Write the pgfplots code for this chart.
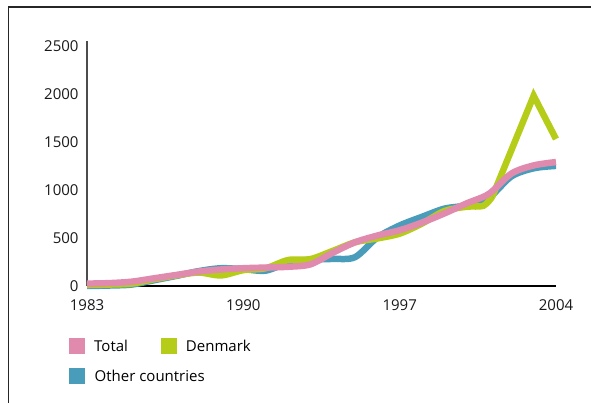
\documentclass[border=0pt]{standalone}
\usepackage{pgfplots}
\pgfplotsset{compat=1.18}
\usepackage{fontspec}
\setmainfont{Open Sans}
\definecolor{cTotal}{HTML}{E08BAE}
\definecolor{cDen}{HTML}{B5CC18}
\definecolor{cOther}{HTML}{4A9DBA}
\begin{document}
\begin{tikzpicture}
\useasboundingbox (0bp,0bp) rectangle (591bp,403bp);
\draw[line width=1.6bp, black!85] (8.5bp,0bp) -- (8.5bp,396bp) -- (591bp,396bp);
\begin{axis}[
  at={(87bp,117bp)}, anchor=south west,
  scale only axis, width=469bp, height=245bp,
  xmin=1983, xmax=2004, ymin=0, ymax=2550,
  clip=false,
  axis x line=bottom, axis y line=left,
  x axis line style={-, line width=1.2bp, black},
  y axis line style={-, line width=1.5bp, black!70},
  xtick={1983,1990,1997,2004},
  ytick={0,500,1000,1500,2000,2500},
  major tick length=0pt,
  /pgf/number format/assume math mode=true,
  /pgf/number format/1000 sep={},
  ticklabel style={font=\fontsize{15bp}{18bp}\selectfont, text=black!90},
  xticklabel style={yshift=-10bp},
  yticklabel style={xshift=-5bp},
  legend columns=2,
  reverse legend,
  legend cell align=left,
  legend image code/.code={\fill[#1, draw=none] (0bp,-8bp) rectangle (16bp,8bp);},
  legend style={draw=none, fill=none, at={(axis description cs:0,0)}, anchor=north west,
    xshift=-18bp, yshift=-52bp, inner sep=0pt, row sep=14bp,
    font=\fontsize{15bp}{18bp}\selectfont, nodes={inner sep=0pt},
    /tikz/every odd column/.append style={column sep=9bp},
    /tikz/every even column/.append style={column sep=33bp}},
]
\addplot[cOther, line width=6.5bp, smooth] coordinates {
(1983,0)(1984,5)(1985,15)(1986,60)(1987,105)(1988,155)(1989,185)(1990,175)(1991,160)(1992,240)(1993,275)(1994,282)(1995,300)(1996,505)(1997,630)(1998,720)(1999,805)(2000,840)(2001,920)(2002,1140)(2003,1225)(2004,1250)};
\addlegendentry{\makebox[0pt][l]{Other countries}}
\addplot[cDen, line width=6.5bp, smooth] coordinates {
(1983,10)(1984,15)(1985,25)(1986,70)(1987,110)(1988,140)(1989,110)(1990,165)(1991,185)(1992,270)(1993,280)(1994,365)(1995,455)(1996,495)(1997,545)(1998,650)(1999,780)(2000,825)(2000.75,835)(2001.15,930)};
\addlegendentry{Denmark}
\addplot[cDen, line width=6.5bp, forget plot] coordinates {
(2001.15,930)(2003,1980)(2004,1530)};
\addplot[cTotal, line width=6.5bp, smooth] coordinates {
(1983,25)(1984,30)(1985,45)(1986,80)(1987,115)(1988,150)(1989,172)(1990,185)(1991,192)(1992,200)(1993,225)(1994,345)(1995,455)(1996,525)(1997,580)(1998,660)(1999,755)(2000,860)(2001,960)(2002,1170)(2003,1255)(2004,1290)};
\addlegendentry{Total}
\end{axis}
\end{tikzpicture}
\end{document}
